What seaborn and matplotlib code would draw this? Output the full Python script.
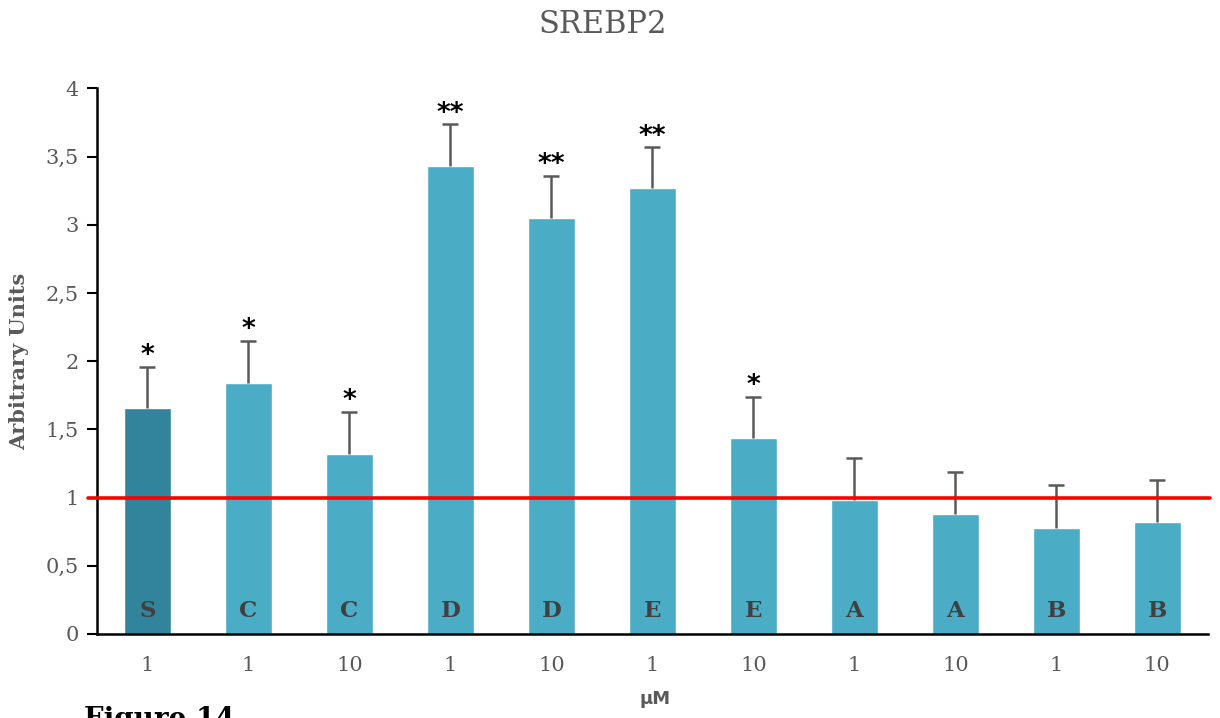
import matplotlib
matplotlib.use("Agg")
import matplotlib.pyplot as plt
import seaborn as sns
import pandas as pd

# Relative SREBP2 expression per compound and concentration
compounds = ["S", "C", "C", "D", "D", "E", "E", "A", "A", "B", "B"]
doses = ["1", "1", "10", "1", "10", "1", "10", "1", "10", "1", "10"]
values = [1.66, 1.84, 1.32, 3.43, 3.05, 3.27, 1.44, 0.98, 0.88, 0.78, 0.82]
errors = [0.30, 0.31, 0.31, 0.31, 0.31, 0.30, 0.30, 0.31, 0.31, 0.31, 0.31]
stars = ["*", "*", "*", "**", "**", "**", "*", "", "", "", ""]
yticks = [0, 0.5, 1, 1.5, 2, 2.5, 3, 3.5, 4]
ytick_labels = ["0", "0,5", "1", "1,5", "2", "2,5", "3", "3,5", "4"]

sns.set_theme(style="white")
plt.rcParams["font.family"] = ["DejaVu Serif"]

keys = [f"{c}{d}_{i}" for i, (c, d) in enumerate(zip(compounds, doses))]
df = pd.DataFrame({"key": keys, "value": values})
palette = {k: ("#31849B" if i == 0 else "#4BACC6") for i, k in enumerate(keys)}

fig = plt.figure(figsize=(12.2, 7.18), dpi=100)
ax = fig.add_axes([0.0795, 0.117, 0.9105, 0.760])

sns.barplot(data=df, x="key", y="value", hue="key", order=keys,
            palette=palette, width=0.47, legend=False, saturation=1,
            ax=ax)

centers = [p.get_x() + p.get_width() / 2 for p in ax.patches[:len(keys)]]
tops = [v + e for v, e in zip(values, errors)]

# Upper-only error bars with a cap at the top
ax.vlines(centers, values, tops, color="#595959", lw=1.8, zorder=3)
ax.plot(centers, tops, linestyle="none", marker="_", markersize=11,
        markeredgewidth=1.8, color="#595959", zorder=3)

for x, t, s, c in zip(centers, tops, stars, compounds):
    if s:
        ax.text(x, t - 0.02, s, ha="center", va="bottom",
                fontsize=19, fontweight="bold", color="black",
                family="DejaVu Sans")
    ax.text(x, 0.17, c, ha="center", va="center", fontsize=16.5,
            fontweight="bold", color="#404040")

# Reference level at 1 (control)
ax.plot([-0.59, 10.52], [1, 1], color="red", lw=2.6, clip_on=False,
        zorder=4)

ax.set_xlim(-0.5, 10.5)
ax.set_ylim(0, 4)
ax.set_yticks(yticks)
ax.set_yticklabels(ytick_labels)
ax.set_xticks(range(len(keys)))
ax.set_xticklabels(doses)
ax.tick_params(axis="x", length=0, labelsize=15, labelcolor="#595959",
               pad=16)
ax.tick_params(axis="y", length=7, width=1.5, direction="out", left=True,
               labelsize=15, labelcolor="#595959", color="black", pad=6)

for side in ["top", "right"]:
    ax.spines[side].set_visible(False)
for side in ["left", "bottom"]:
    ax.spines[side].set_color("black")
    ax.spines[side].set_linewidth(1.8)

ax.set_xlabel("")
ax.set_ylabel("Arbitrary Units", fontsize=15, fontweight="bold",
              color="#595959", labelpad=12)

fig.text(0.494, 0.966, "SREBP2", ha="center", va="center", fontsize=22,
         color="#595959")
fig.text(0.537, 0.027, "µM", ha="center", va="center", fontsize=13,
         fontweight="bold", color="#595959", family="DejaVu Sans")
fig.text(0.069, 0.017, "Figure 14", ha="left", va="top", fontsize=20,
         fontweight="bold", color="black")

fig.savefig("out.png", dpi=100)
